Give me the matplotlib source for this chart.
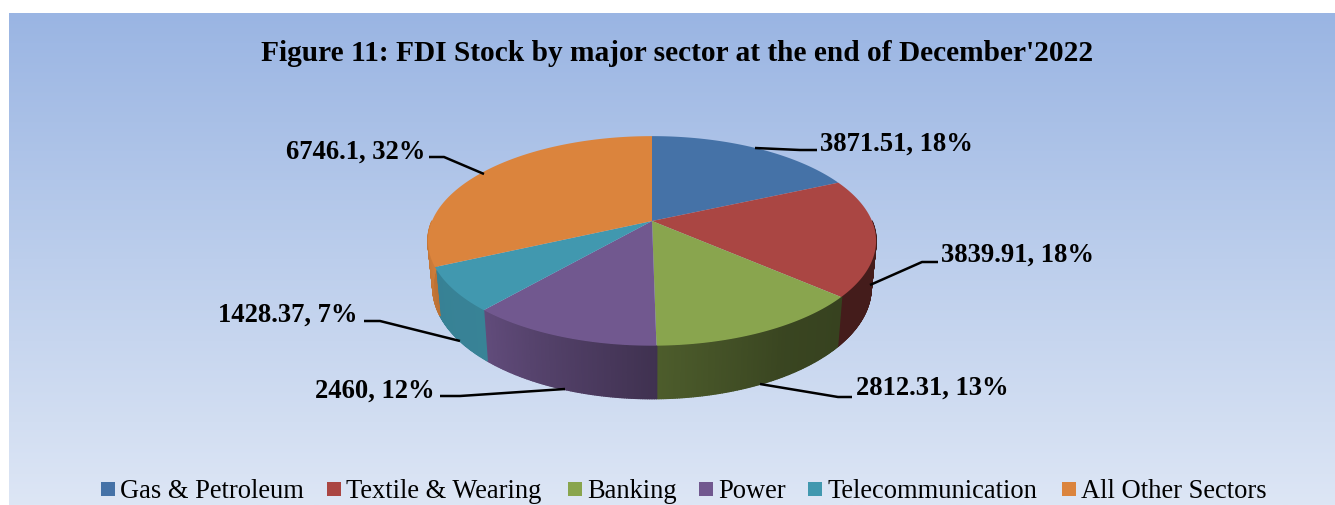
import numpy as np
import matplotlib
matplotlib.use('Agg')
import matplotlib.pyplot as plt
from matplotlib.collections import PolyCollection
from matplotlib.colors import to_rgb, LinearSegmentedColormap

# data
sectors = ['Gas & Petroleum', 'Textile & Wearing', 'Banking', 'Power',
           'Telecommunication', 'All Other Sectors']
values = [3871.51, 3839.91, 2812.31, 2460, 1428.37, 6746.1]
colors = ['#4572A7', '#AA4643', '#89A54E', '#71588F', '#4198AF', '#DB843D']
title = "Figure 11: FDI Stock by major sector at the end of December'2022"

W, H = 1335, 506
fig = plt.figure(figsize=(W / 100, H / 100), dpi=100)
ax = fig.add_axes([0, 0, 1, 1])
ax.set_xlim(0, W)
ax.set_ylim(H, 0)
ax.axis('off')

# blue background gradient
bg = LinearSegmentedColormap.from_list('bg', ['#9AB5E3', '#BCCEEC', '#DDE6F5'])
ax.imshow(np.linspace(0, 1, 256).reshape(-1, 1), cmap=bg, aspect='auto',
          extent=[9, W, 506, 14], zorder=0)
ax.set_xlim(0, W)
ax.set_ylim(H, 0)

# pie in perspective
cx, cy, a, b, k = 652, 222, 220, 101, 0.19


def top_rim(deg):
    t = np.radians(deg)
    d = 1 + k * np.cos(t)
    return cx + a * np.sin(t) / d, cy - b * np.cos(t) / d


def bottom_rim(deg):
    x, y = top_rim(deg)
    return cx + (x - cx) * 0.978, y + 50 + 0.06 * (y - 297)


edges = np.concatenate([[0], np.cumsum(values)]) / np.sum(values) * 360

# side wall, shaded along the angle
steps = np.arange(90, 270, 0.5)
quads, quad_colors = [], []
for s in steps:
    i = np.searchsorted(edges, s + 0.25) - 1
    x1, y1 = top_rim(s)
    x2, y2 = top_rim(s + 0.5)
    x3, y3 = bottom_rim(s + 0.5)
    x4, y4 = bottom_rim(s)
    quads.append([(x1, y1), (x2, y2), (x3, y3), (x4, y4)])
    shade = np.interp(s + 0.25, [100, 132, 150, 179, 221, 245, 270],
                      [0.40, 0.40, 0.42, 0.56, 0.86, 0.85, 0.95])
    quad_colors.append(np.array(to_rgb(colors[i])) * shade)
ax.add_collection(PolyCollection(quads, facecolors=quad_colors, edgecolors='face',
                                 linewidths=1.0, zorder=2))

# top face
for i, c in enumerate(colors):
    th = np.linspace(edges[i], edges[i + 1], 120)
    x, y = top_rim(th)
    ax.fill(np.r_[cx, x], np.r_[cy, y], color=c, lw=0, zorder=3)

# leader lines and labels
leaders = [
    ([755, 800, 817], [149, 151, 151], 820, 151, 'left'),
    ([870, 922, 938], [286, 263, 263], 941, 262, 'left'),
    ([760, 838, 852], [385, 398, 398], 856, 395, 'left'),
    ([565, 460, 440], [390, 397, 397], 435, 398, 'right'),
    ([460, 380, 364], [342, 322, 322], 358, 322, 'right'),
    ([484, 444, 429], [175, 158, 158], 425, 159, 'right'),
]
total = sum(values)
for v, (lx, ly, tx, ty, ha) in zip(values, leaders):
    ax.plot(lx, ly, color='black', lw=1.8, zorder=4, solid_capstyle='butt')
    ax.text(tx, ty, f'{v:g}, {v / total * 100:.0f}%', family='Liberation Serif',
            weight='bold', fontsize=19.2, ha=ha, va='baseline', color='black', zorder=5)

ax.text(677.5, 61, title, family='Liberation Serif', weight='bold', fontsize=21.2,
        ha='center', va='baseline', color='black')

# legend
legend_x = [101, 327, 568, 699, 808, 1062]
for name, c, lx in zip(sectors, colors, legend_x):
    ax.fill([lx, lx + 14, lx + 14, lx], [483, 483, 497, 497], color=c, lw=0)
    ax.text(lx + 19, 498, name, family='Liberation Serif', fontsize=19.1,
            ha='left', va='baseline', color='black')

plt.savefig('out.png', dpi=100, facecolor='white')
